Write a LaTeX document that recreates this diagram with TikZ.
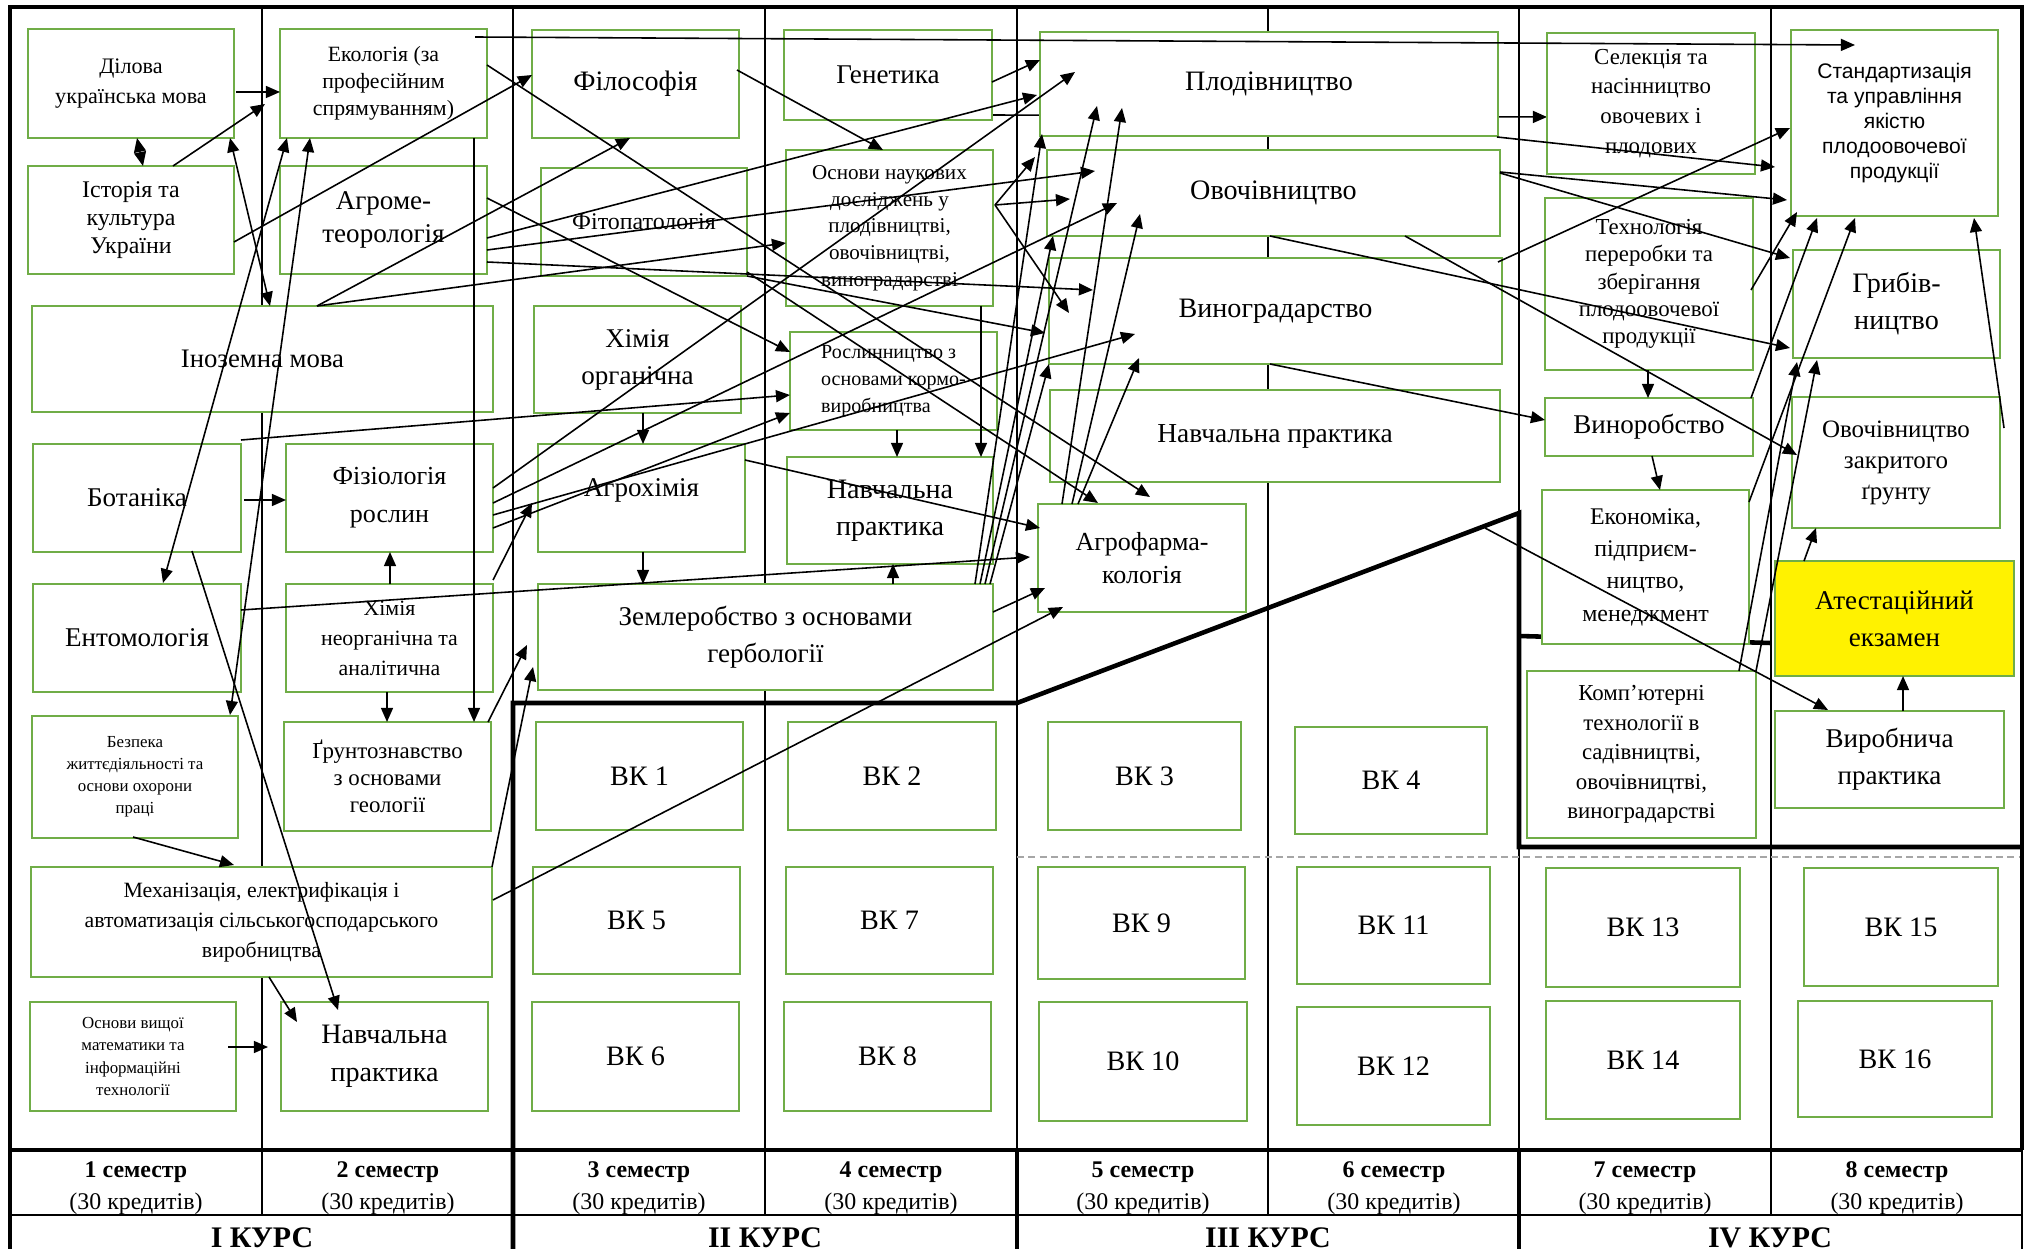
\documentclass[tikz,border=0pt]{standalone}
\usepackage{fontspec}
\setmainfont{Liberation Serif}
\newfontfamily\arialf{Liberation Sans}
\usetikzlibrary{arrows.meta}
\pgfdeclarelayer{bg}
\pgfsetlayers{bg,main}
\definecolor{gbox}{RGB}{112,173,71}
\newcommand{\fsz}[2]{\fontsize{#1}{#2}\selectfont}
\newcommand{\mybox}[8][]{%
  \expandafter\def\csname X#2\endcsname{#3}%
  \expandafter\def\csname Y#2\endcsname{#4}%
  \node[box,#1,font=#8,minimum width={(#5-#3)*0.01cm},minimum height={(#6-#4)*0.01cm}] (#2) at ({(#3+#5)/2},{(#4+#6)/2}) {#7};}
\newcommand{\nd}[3]{([shift={({#2-\csname X#1\endcsname},{#3-\csname Y#1\endcsname})}]#1.north west)}
\begin{document}
\begin{tikzpicture}[x=0.01cm,y=-0.01cm,
  box/.style={draw=gbox,line width=0.55pt,fill=white,align=center,inner sep=1pt,outer sep=0pt,rectangle},
  arr/.style={-{Triangle[length=4pt,width=3.4pt]},line width=0.45pt,black},
  arrb/.style={{Triangle[length=4pt,width=3.4pt]}-{Triangle[length=4pt,width=3.4pt]},line width=0.45pt,black},
  gridl/.style={line width=0.45pt,black},
  gridt/.style={line width=1.3pt,black},
  hdr/.style={align=center,inner sep=0pt,font=\fsz{6.8pt}{9pt}},
  crs/.style={anchor=base,inner sep=0pt,font=\bfseries\fsz{8.5pt}{9pt}}]
\useasboundingbox (0,0) rectangle (2033,1249);
% grid
\draw[gridl] (262,7)--(262,1215);
\draw[gridl] (513,7)--(513,703);
\draw[gridl] (765,7)--(765,1215);
\draw[gridl] (1017,7)--(1017,1150);
\draw[gridl] (1268,7)--(1268,1215);
\draw[gridl] (1519,7)--(1519,513);
\draw[gridl] (1519,847)--(1519,1150);
\draw[gridl] (1771,7)--(1771,1215);
\draw[line width=0.7pt] (10,1215)--(2022,1215);
\draw[gridl] (2022,1150)--(2022,1260);
\draw[gray!70,line width=0.5pt,dash pattern=on 2pt off 1.2pt] (1017,857)--(2022,857);
\draw[gridt] (10,1260)--(10,7)--(2022,7)--(2022,1150);
\draw[gridt] (10,1150)--(2022,1150);
\draw[gridt] (513,1260)--(513,703)--(1017,703)--(1519,513)--(1519,847)--(2022,847);
\draw[gridt] (1519,636)--(1771,643);
\draw[gridt] (1017,1150)--(1017,1260);
\draw[gridt] (1519,1150)--(1519,1260);
% header
\foreach \i/\cx in {1/136,2/388,3/639,4/891,5/1143,6/1394,7/1645,8/1897}
  \node[hdr] (sem\i) at (\cx,1188) {\textbf{\i\ семестр}\\(30 кредитів)};
\node[crs] (k1) at (262,1247) {I КУРС};
\node[crs] (k2) at (765,1247) {II КУРС};
\node[crs] (k3) at (1268,1247) {III КУРС};
\node[crs] (k4) at (1770,1247) {IV КУРС};
% boxes
\mybox{dil}{28}{29}{234}{138}{Ділова\\українська мова}{\fsz{6.3pt}{8.5pt}}
\mybox{ist}{28}{166}{234}{274}{Історія та\\культура\\України}{\fsz{6.8pt}{8pt}}
\mybox{ino}{32}{306}{493}{412}{Іноземна мова}{\fsz{7.6pt}{9pt}}
\mybox{bot}{33}{444}{241}{552}{Ботаніка}{\fsz{7.7pt}{9pt}}
\mybox{ent}{33}{584}{241}{692}{Ентомологія}{\fsz{7.7pt}{9pt}}
\mybox{bzp}{32}{716}{238}{838}{Безпека\\життєдіяльності та\\основи охорони\\праці}{\fsz{4.8pt}{6.3pt}}
\mybox{mex}{31}{867}{492}{977}{Механізація, електрифікація і\\автоматизація сільськогосподарського\\виробництва}{\fsz{6.2pt}{8.5pt}}
\mybox{mat}{30}{1002}{236}{1111}{Основи вищої\\математики та\\інформаційні\\технології}{\fsz{4.8pt}{6.3pt}}
\mybox{eko}{280}{29}{487}{138}{Екологія (за\\професійним\\спрямуванням)}{\fsz{6.2pt}{7.7pt}}
\mybox{agm}{280}{166}{487}{274}{Агроме-\\теорологія}{\fsz{7.7pt}{9.4pt}}
\mybox{fiz}{286}{444}{493}{552}{Фізіологія\\рослин}{\fsz{7.4pt}{10.8pt}}
\mybox{hno}{286}{584}{493}{692}{Хімія\\неорганічна та\\аналітична}{\fsz{6.2pt}{8.5pt}}
\mybox{grn}{284}{722}{491}{831}{Ґрунтознавство\\з основами\\геології}{\fsz{6.5pt}{7.7pt}}
\mybox{np2}{281}{1002}{488}{1111}{Навчальна\\практика}{\fsz{8pt}{10.8pt}}
\mybox{fil}{532}{30}{739}{138}{Філософія}{\fsz{8pt}{9pt}}
\mybox{ftp}{541}{168}{747}{276}{Фітопатологія}{\fsz{6.8pt}{8pt}}
\mybox{hor}{534}{306}{741}{413}{Хімія\\органічна}{\fsz{7.7pt}{10.5pt}}
\mybox{ahm}{538}{444}{745}{552}{\raisebox{6pt}{Агрохімія}}{\fsz{7.7pt}{9pt}}
\mybox{zem}{538}{584}{993}{690}{Землеробство з основами\\гербології}{\fsz{7.7pt}{10.5pt}}
\mybox{gen}{784}{30}{992}{120}{Генетика}{\fsz{7.7pt}{9pt}}
\mybox{ond}{786}{150}{993}{306}{Основи наукових\\досліджень у\\плодівництві,\\овочівництві,\\виноградарстві}{\fsz{6pt}{7.6pt}}
\mybox[align=left]{ros}{790}{332}{997}{430}{Рослинництво з\\основами кормо-\\виробництва}{\fsz{5.7pt}{7.7pt}}
\mybox{np4}{787}{457}{993}{564}{Навчальна\\практика}{\fsz{8pt}{10.5pt}}
\mybox{plo}{1040}{32}{1498}{136}{Плодівництво}{\fsz{8pt}{9pt}}
\mybox{ovo}{1047}{150}{1500}{236}{Овочівництво}{\fsz{8pt}{9pt}}
\mybox{vng}{1049}{258}{1502}{364}{Виноградарство}{\fsz{8pt}{9pt}}
\mybox{np5}{1050}{390}{1500}{482}{Навчальна практика}{\fsz{7.8pt}{9pt}}
\mybox{afk}{1038}{504}{1246}{612}{Агрофарма-\\кологія}{\fsz{7.4pt}{9.4pt}}
\mybox{sel}{1547}{33}{1755}{174}{Селекція та\\насінництво\\овочевих і\\плодових}{\fsz{6.5pt}{8.5pt}}
\mybox{teh}{1545}{198}{1753}{370}{Технологія\\переробки та\\зберігання\\плодоовочевої\\продукції}{\fsz{6.5pt}{7.8pt}}
\mybox{vnr}{1545}{398}{1753}{456}{Виноробство}{\fsz{7.7pt}{9pt}}
\mybox{eco}{1542}{490}{1749}{644}{Економіка,\\підприєм-\\ництво,\\менеджмент}{\fsz{6.8pt}{9.2pt}}
\mybox{komp}{1527}{671}{1756}{838}{Комп'ютерні\\технології в\\садівництві,\\овочівництві,\\виноградарстві}{\fsz{6.5pt}{8.4pt}}
\mybox{std}{1791}{30}{1998}{216}{Стандартизація\\та управління\\якістю\\плодоовочевої\\продукції}{\arialf\fsz{6pt}{7.1pt}}
\mybox{grb}{1793}{250}{2000}{358}{Грибів-\\ництво}{\fsz{8pt}{10.5pt}}
\mybox{ozg}{1792}{397}{2000}{528}{Овочівництво\\закритого\\ґрунту}{\fsz{7.1pt}{8.8pt}}
\mybox[fill=yellow]{ats}{1775}{561}{2014}{676}{Атестаційний\\екзамен}{\fsz{7.7pt}{10.5pt}}
\mybox{vyr}{1775}{711}{2004}{808}{Виробнича\\практика}{\fsz{7.7pt}{10.5pt}}
\mybox{vk1}{536}{722}{743}{830}{ВК 1}{\fsz{8pt}{9pt}}
\mybox{vk2}{788}{722}{996}{830}{ВК 2}{\fsz{8pt}{9pt}}
\mybox{vk3}{1048}{722}{1241}{830}{ВК 3}{\fsz{8pt}{9pt}}
\mybox{vk4}{1295}{727}{1487}{834}{ВК 4}{\fsz{8pt}{9pt}}
\mybox{vk5}{533}{867}{740}{974}{ВК 5}{\fsz{8pt}{9pt}}
\mybox{vk6}{532}{1002}{739}{1111}{ВК 6}{\fsz{8pt}{9pt}}
\mybox{vk7}{786}{867}{993}{974}{ВК 7}{\fsz{8pt}{9pt}}
\mybox{vk8}{784}{1002}{991}{1111}{ВК 8}{\fsz{8pt}{9pt}}
\mybox{vk9}{1038}{867}{1245}{979}{ВК 9}{\fsz{8pt}{9pt}}
\mybox{vk10}{1039}{1002}{1247}{1121}{ВК 10}{\fsz{8pt}{9pt}}
\mybox{vk11}{1297}{867}{1490}{984}{ВК 11}{\fsz{8pt}{9pt}}
\mybox{vk12}{1297}{1007}{1490}{1125}{ВК 12}{\fsz{8pt}{9pt}}
\mybox{vk13}{1546}{868}{1740}{987}{ВК 13}{\fsz{8pt}{9pt}}
\mybox{vk14}{1546}{1001}{1740}{1119}{ВК 14}{\fsz{8pt}{9pt}}
\mybox{vk15}{1804}{868}{1998}{986}{ВК 15}{\fsz{8pt}{9pt}}
\mybox{vk16}{1798}{1001}{1992}{1117}{ВК 16}{\fsz{8pt}{9pt}}
% hidden line under boxes
\begin{pgfonlayer}{bg}
\draw[arr] \nd{gen}{992}{115} -- \nd{sel}{1547}{117};
\end{pgfonlayer}
% connectors
\draw[arr] \nd{dil}{236}{92} -- \nd{eko}{280}{92};
\draw[arrb] \nd{dil}{137}{138} -- \nd{ist}{143}{166};
\draw[arr] \nd{ist}{173}{166} -- \nd{eko}{265}{104};
\draw[arrb] \nd{dil}{230}{138} -- \nd{ino}{270}{306};
\draw[arrb] \nd{eko}{287}{138} -- \nd{ent}{163}{583};
\draw[arrb] \nd{eko}{310}{138} -- \nd{bzp}{230}{715};
\draw[arr] \nd{ist}{234}{242} -- \nd{fil}{532}{75};
\draw[arr] \nd{ino}{317}{306} -- \nd{fil}{630}{138};
\draw[arr] \nd{ino}{317}{306} -- \nd{ond}{786}{243};
\draw[arr] \nd{eko}{475}{37} -- \nd{std}{1855}{45};
\draw[arr] \nd{eko}{474}{138} -- \nd{grn}{474}{722};
\draw[arr] \nd{eko}{487}{65} -- \nd{afk}{1150}{497};
\draw[arr] \nd{fil}{737}{70} -- \nd{ond}{883}{150};
\draw[arr] \nd{ftp}{747}{272} -- \nd{afk}{1098}{503};
\draw[arr] \nd{agm}{487}{198} -- \nd{ros}{790}{352};
\draw[arr] \nd{bot}{241}{440} -- \nd{ros}{790}{395};
\draw[arr] \nd{fiz}{493}{528} -- \nd{ros}{790}{413};
\draw[arr] \nd{hno}{493}{580} -- \nd{ahm}{532}{503};
\draw[arr] \nd{grn}{488}{722} -- \nd{zem}{527}{645};
\draw[arr] \nd{mex}{492}{867} -- \nd{zem}{533}{667};
\draw[arr] \nd{mex}{493}{900} -- \nd{afk}{1063}{607};
\draw[arr] \nd{zem}{993}{612} -- \nd{afk}{1045}{588};
\draw[arr] \nd{bot}{244}{500} -- \nd{fiz}{286}{500};
\draw[arr] \nd{hno}{390}{584} -- \nd{fiz}{390}{552};
\draw[arr] \nd{hno}{387}{692} -- \nd{grn}{387}{722};
\draw[arr] \nd{bot}{192}{551} -- \nd{np2}{338}{1010};
\draw[arr] \nd{mex}{269}{977} -- \nd{np2}{297}{1022};
\draw[arr] \nd{mat}{228}{1047} -- \nd{np2}{268}{1047};
\draw[arr] \nd{bzp}{133}{837} -- \nd{mex}{234}{865};
\draw[arr] \nd{ent}{241}{610} -- \nd{afk}{1030}{557};
\draw[arr] \nd{ahm}{745}{460} -- \nd{afk}{1040}{528};
\draw[arr] \nd{zem}{893}{584} -- \nd{np4}{893}{564};
\draw[arr] \nd{ahm}{643}{552} -- \nd{zem}{643}{584};
\draw[arr] \nd{hor}{643}{413} -- \nd{ahm}{643}{444};
\draw[arr] \nd{ros}{897}{430} -- \nd{np4}{897}{457};
\draw[arr] \nd{ond}{981}{306} -- \nd{np4}{981}{457};
\draw[arr] \nd{gen}{992}{82} -- \nd{plo}{1040}{60};
\draw[arr] \nd{fiz}{493}{488} -- \nd{plo}{1075}{72};
\draw[arr] \nd{fiz}{493}{503} -- \nd{ovo}{1117}{203};
\draw[arr] \nd{fiz}{493}{515} -- \nd{vng}{1135}{334};
\draw[arr] \nd{agm}{487}{238} -- \nd{plo}{1037}{95};
\draw[arr] \nd{agm}{487}{250} -- \nd{ovo}{1095}{171};
\draw[arr] \nd{agm}{487}{262} -- \nd{vng}{1093}{290};
\draw[arr] \nd{ftp}{747}{276} -- \nd{vng}{1045}{333};
\draw[arr] \nd{ond}{995}{205} -- \nd{ovo}{1035}{157};
\draw[arr] \nd{ond}{995}{205} -- \nd{ovo}{1070}{199};
\draw[arr] \nd{ond}{995}{205} -- \nd{vng}{1069}{313};
\draw[arr] \nd{zem}{975}{584} -- \nd{plo}{1042}{134};
\draw[arr] \nd{zem}{985}{584} -- \nd{plo}{1097}{106};
\draw[arr] \nd{zem}{980}{584} -- \nd{ovo}{1053}{236};
\draw[arr] \nd{zem}{990}{584} -- \nd{vng}{1049}{364};
\draw[arr] \nd{afk}{1062}{504} -- \nd{plo}{1122}{108};
\draw[arr] \nd{afk}{1072}{504} -- \nd{ovo}{1140}{214};
\draw[arr] \nd{afk}{1078}{504} -- \nd{vng}{1139}{358};
\draw[arr] \nd{plo}{1497}{137} -- \nd{std}{1775}{167};
\draw[arr] \nd{ovo}{1500}{172} -- \nd{std}{1787}{200};
\draw[arr] \nd{ovo}{1500}{173} -- \nd{grb}{1790}{258};
\draw[arr] \nd{ovo}{1405}{236} -- \nd{ozg}{1797}{455};
\draw[arr] \nd{ovo}{1270}{236} -- \nd{grb}{1790}{348};
\draw[arr] \nd{vng}{1270}{364} -- \nd{vnr}{1545}{420};
\draw[arr] \nd{vng}{1498}{262} -- \nd{std}{1790}{128};
\draw[arr] \nd{teh}{1648}{370} -- \nd{vnr}{1648}{398};
\draw[arr] \nd{teh}{1751}{290} -- \nd{std}{1797}{212};
\draw[arr] \nd{vnr}{1751}{398} -- \nd{std}{1817}{218};
\draw[arr] \nd{eco}{1749}{502} -- \nd{std}{1855}{218};
\draw[arr] \nd{komp}{1756}{671} -- \nd{grb}{1817}{360};
\draw[arr] \nd{komp}{1739}{671} -- \nd{grb}{1797}{362};
\draw[arr] \nd{ozg}{2004}{428} -- \nd{std}{1974}{218};
\draw[arr] \nd{ats}{1804}{561} -- \nd{ozg}{1816}{528};
\draw[arr] \nd{vyr}{1903}{711} -- \nd{ats}{1903}{676};
\draw[arr] \nd{np5}{1485}{528} -- \nd{vyr}{1828}{710};
\draw[arr] \nd{vnr}{1652}{456} -- \nd{eco}{1660}{490};
\end{tikzpicture}
\end{document}
